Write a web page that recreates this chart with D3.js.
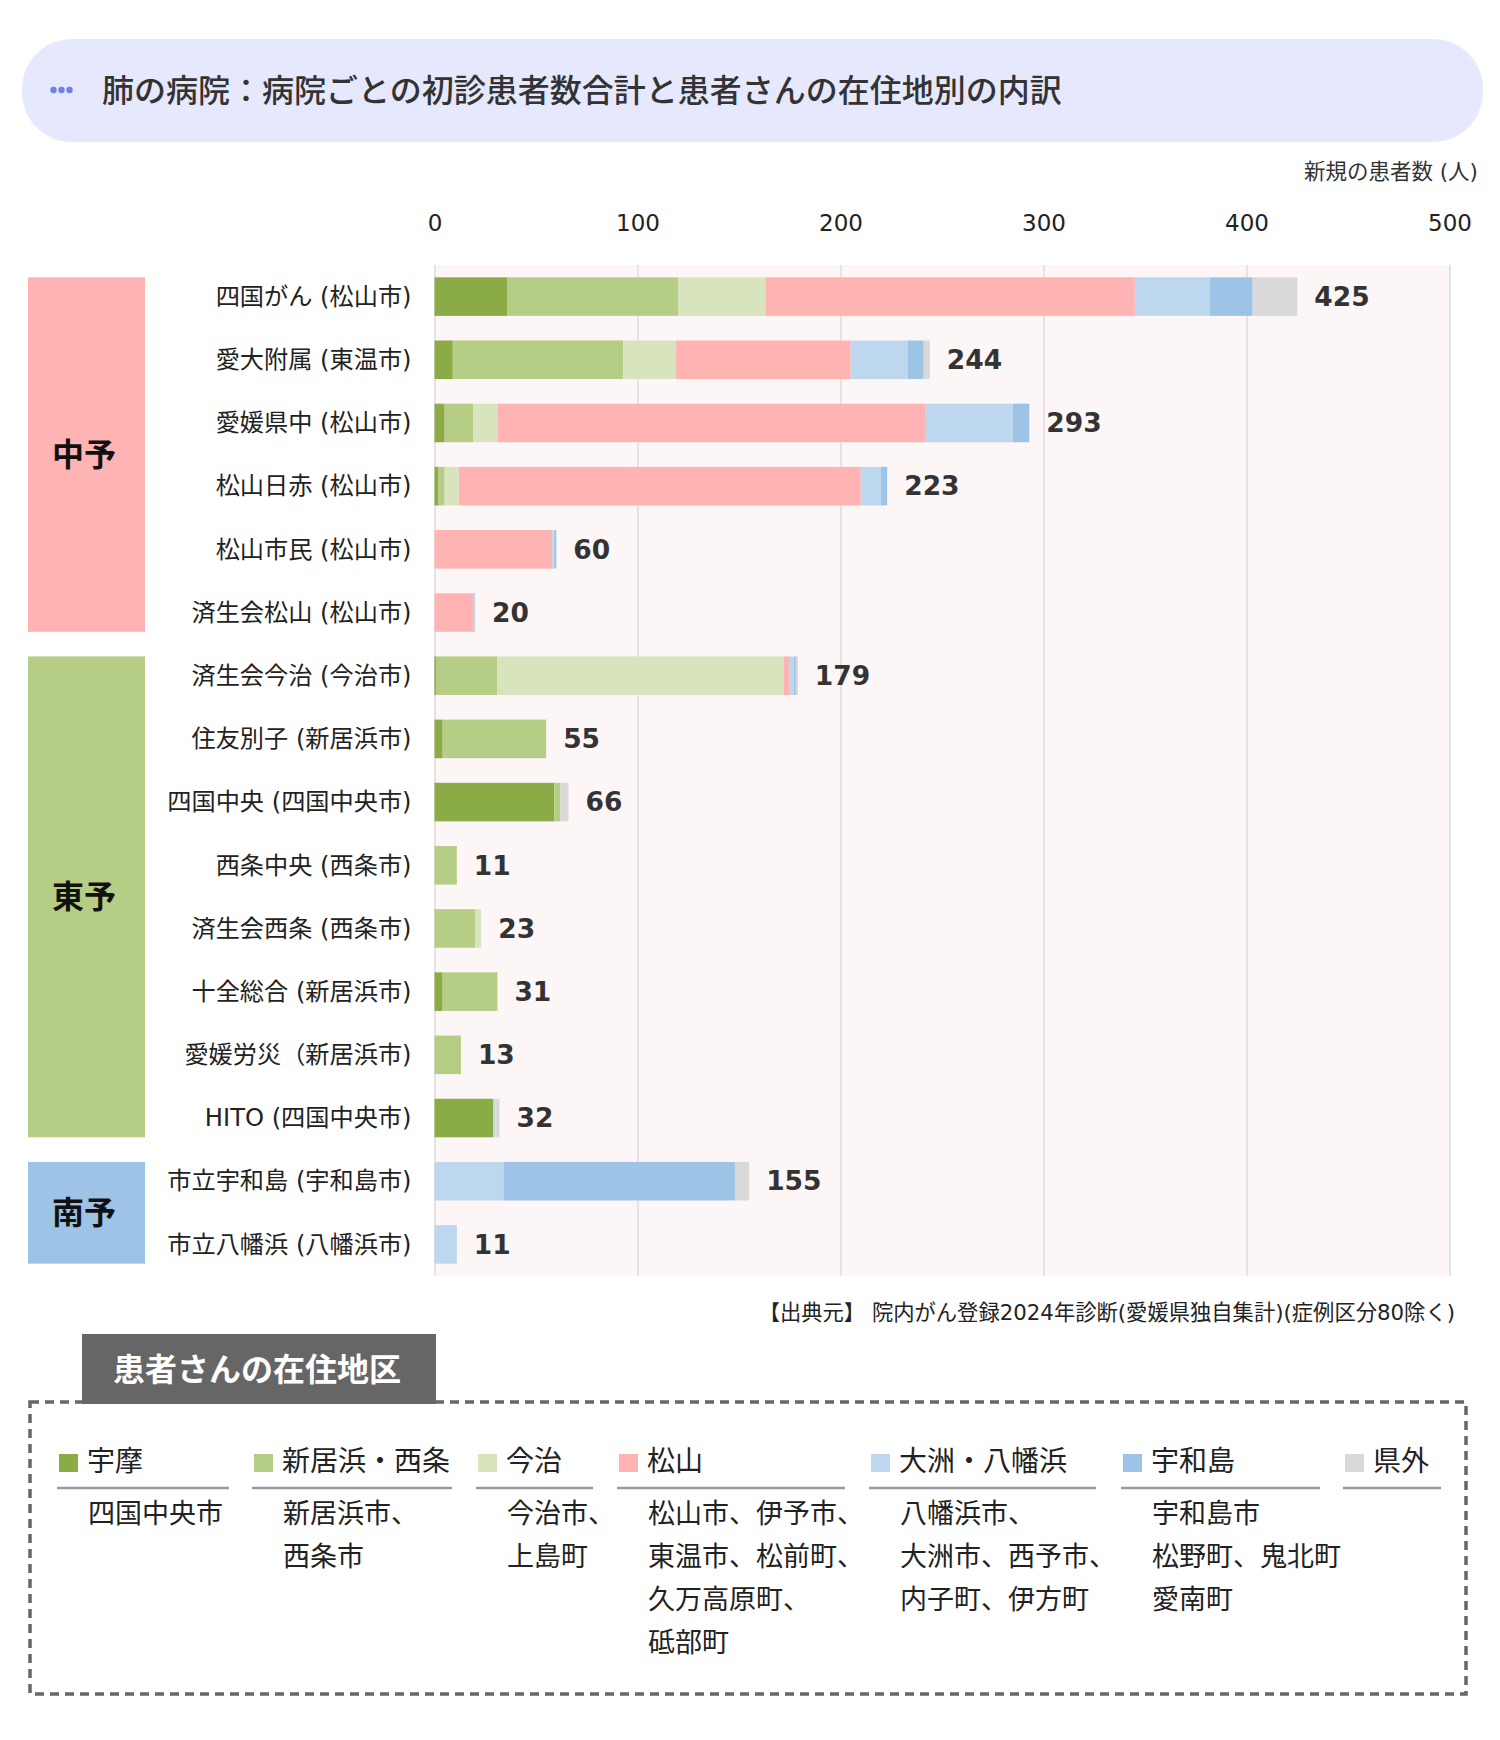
<!DOCTYPE html>
<html lang="ja">
<head>
<meta charset="utf-8">
<script src="https://cdn.jsdelivr.net/npm/d3@7"></script>
<style>
  body { margin: 0; background: #fff; }
  text { font-family: "DejaVu Sans", "Noto Sans CJK JP", sans-serif; }
  .cjk { font-family: "Noto Sans CJK JP", sans-serif; }
</style>
</head>
<body>
<div id="vis"></div>
<script>
// データ（病院ごとの初診患者数・在住地別）
const hospitals = [
  '四国がん (松山市)', '愛大附属 (東温市)', '愛媛県中 (松山市)', '松山日赤 (松山市)',
  '松山市民 (松山市)', '済生会松山 (松山市)', '済生会今治 (今治市)', '住友別子 (新居浜市)',
  '四国中央 (四国中央市)', '西条中央 (西条市)', '済生会西条 (西条市)', '十全総合 (新居浜市)',
  '愛媛労災（新居浜市)', 'HITO (四国中央市)', '市立宇和島 (宇和島市)', '市立八幡浜 (八幡浜市)',
];
const seriesNames = ['宇摩', '新居浜・西条', '今治', '松山', '大洲・八幡浜', '宇和島', '県外'];
const umaValues = [36, 9, 5, 2, 0, 0, 1, 4, 59, 0, 0, 4, 0, 29, 0, 0];
const niihamaValues = [84, 84, 14, 3, 0, 0, 30, 51, 3, 11, 20, 27, 13, 0, 0, 0];
const imabariValues = [43, 26, 12, 7, 0, 0, 141, 0, 0, 0, 3, 0, 0, 0, 0, 0];
const matsuyamaValues = [182, 86, 211, 198, 58, 19, 3, 0, 0, 0, 0, 0, 0, 0, 0, 0];
const ozuValues = [37, 28, 43, 10, 1, 1, 2, 0, 0, 0, 0, 0, 0, 1, 34, 11];
const uwajimaValues = [21, 8, 8, 3, 1, 0, 1, 0, 0, 0, 0, 0, 0, 0, 114, 0];
const outsideValues = [22, 3, 0, 0, 0, 0, 1, 0, 4, 0, 0, 0, 0, 2, 7, 0];
const seriesColors = ['#8aab45', '#b5cd84', '#d8e4bd', '#ffb3b3', '#bdd7ee', '#9dc3e6', '#d9d9d9'];

const regionNames = ['中予', '東予', '南予'];
const regionRowCounts = [6, 8, 2];
const regionColors = ['#ffb3b3', '#b5cd84', '#9dc3e6'];

const xTicks = [0, 100, 200, 300, 400, 500];

const legendAreas = [
  ['四国中央市'],
  ['新居浜市、', '西条市'],
  ['今治市、', '上島町'],
  ['松山市、伊予市、', '東温市、松前町、', '久万高原町、', '砥部町'],
  ['八幡浜市、', '大洲市、西予市、', '内子町、伊方町'],
  ['宇和島市', '松野町、鬼北町', '愛南町'],
  [],
];

const titleText = '肺の病院：病院ごとの初診患者数合計と患者さんの在住地別の内訳';
const unitText = '新規の患者数 (人)';
const sourceText = '【出典元】 院内がん登録2024年診断(愛媛県独自集計)(症例区分80除く)';
const legendTitle = '患者さんの在住地区';

// レイアウト
const WIDTH = 1500;
const HEIGHT = 1740;
const PLOT = { left: 434.5, right: 1449.5, top: 265, bottom: 1276 };
const LEGEND_COL_X = [59, 254, 478, 619, 871, 1123, 1345];
const LEGEND_LINE_END = [229, 452, 593, 845, 1096, 1320, 1441];

const svg = d3.select('#vis').append('svg')
  .attr('width', WIDTH)
  .attr('height', HEIGHT);

// タイトル
svg.append('rect')
  .attr('x', 22).attr('y', 39)
  .attr('width', 1461).attr('height', 103)
  .attr('rx', 50).attr('ry', 50)
  .attr('fill', '#e6e8fd');

svg.append('g')
  .selectAll('circle')
  .data([0, 1, 2])
  .join('circle')
  .attr('cx', (d) => 53.5 + d * 8)
  .attr('cy', 90)
  .attr('r', 3.2)
  .attr('fill', '#6d80ee');

svg.append('text')
  .attr('class', 'cjk')
  .attr('x', 102).attr('y', 90)
  .attr('dy', '0.36em')
  .attr('font-size', 32)
  .attr('font-weight', 500)
  .attr('fill', '#333')
  .text(titleText);

svg.append('text')
  .attr('x', 1478).attr('y', 171)
  .attr('dy', '0.36em')
  .attr('text-anchor', 'end')
  .attr('font-size', 21.5)
  .attr('fill', '#333')
  .text(unitText);

// スケール
const x = d3.scaleLinear().domain([0, 500]).range([PLOT.left, PLOT.right]);
const y = d3.scaleBand()
  .domain(hospitals)
  .range([PLOT.top, PLOT.bottom])
  .paddingInner(0.39)
  .paddingOuter(0.195);

// 積み上げ用テーブル
const seriesValues = [umaValues, niihamaValues, imabariValues, matsuyamaValues,
  ozuValues, uwajimaValues, outsideValues];
const table = hospitals.map((h, i) => {
  const row = { hospital: h };
  seriesNames.forEach((s, j) => { row[s] = seriesValues[j][i]; });
  row.total = d3.sum(seriesValues, (v) => v[i]);
  return row;
});
const stacked = d3.stack().keys(seriesNames)(table);

// 背景とグリッド
svg.append('rect')
  .attr('x', PLOT.left).attr('y', PLOT.top)
  .attr('width', PLOT.right - PLOT.left)
  .attr('height', PLOT.bottom - PLOT.top)
  .attr('fill', '#fdf6f6');

const grid = svg.append('g')
  .attr('transform', `translate(0,${PLOT.top})`)
  .call(d3.axisBottom(x).tickValues(xTicks)
    .tickSize(PLOT.bottom - PLOT.top).tickFormat(''));
grid.select('.domain').remove();
grid.selectAll('line').attr('stroke', '#dcdcdc').attr('stroke-width', 1.5);

const xAxis = svg.append('g')
  .attr('transform', 'translate(0,231)')
  .call(d3.axisTop(x).tickValues(xTicks).tickSize(0).tickPadding(0));
xAxis.select('.domain').remove();
xAxis.selectAll('text')
  .attr('font-size', 23)
  .attr('fill', '#222')
  .style('font-family', '"DejaVu Sans", sans-serif');

// 地域の帯
let rowStart = 0;
regionNames.forEach((r, i) => {
  const first = hospitals[rowStart];
  const last = hospitals[rowStart + regionRowCounts[i] - 1];
  const top = y(first);
  const bottom = y(last) + y.bandwidth();
  svg.append('rect')
    .attr('x', 28).attr('y', top)
    .attr('width', 117).attr('height', bottom - top)
    .attr('fill', regionColors[i]);
  svg.append('text')
    .attr('class', 'cjk')
    .attr('x', 84).attr('y', (top + bottom) / 2)
    .attr('dy', '0.36em')
    .attr('text-anchor', 'middle')
    .attr('font-size', 32)
    .attr('font-weight', 'bold')
    .attr('fill', '#111')
    .text(r);
  rowStart += regionRowCounts[i];
});

// 病院名
svg.append('g')
  .selectAll('text')
  .data(hospitals)
  .join('text')
  .attr('x', 411.5)
  .attr('y', (d) => y(d) + y.bandwidth() / 2)
  .attr('dy', '0.34em')
  .attr('text-anchor', 'end')
  .attr('font-size', 24.2)
  .attr('fill', '#222')
  .text((d) => d);

// 棒
svg.append('g')
  .selectAll('g')
  .data(stacked)
  .join('g')
  .attr('fill', (d, i) => seriesColors[i])
  .selectAll('rect')
  .data((d) => d)
  .join('rect')
  .attr('x', (d) => x(d[0]))
  .attr('y', (d) => y(d.data.hospital))
  .attr('width', (d) => x(d[1]) - x(d[0]))
  .attr('height', y.bandwidth());

// 合計値
svg.append('g')
  .selectAll('text')
  .data(table)
  .join('text')
  .attr('x', (d) => x(d.total) + 17)
  .attr('y', (d) => y(d.hospital) + y.bandwidth() / 2)
  .attr('dy', '0.35em')
  .attr('font-size', 26.5)
  .attr('font-weight', 'bold')
  .attr('fill', '#333')
  .text((d) => d.total);

// 出典
svg.append('text')
  .attr('x', 1455).attr('y', 1312)
  .attr('dy', '0.36em')
  .attr('text-anchor', 'end')
  .attr('font-size', 21.3)
  .attr('fill', '#222')
  .text(sourceText);

// 凡例
svg.append('rect')
  .attr('x', 30).attr('y', 1402)
  .attr('width', 1436).attr('height', 292)
  .attr('fill', 'none')
  .attr('stroke', '#666')
  .attr('stroke-width', 3.5)
  .attr('stroke-dasharray', '9 6');

svg.append('rect')
  .attr('x', 82).attr('y', 1334)
  .attr('width', 354).attr('height', 70)
  .attr('fill', '#666');

svg.append('text')
  .attr('class', 'cjk')
  .attr('x', 257).attr('y', 1369)
  .attr('dy', '0.36em')
  .attr('text-anchor', 'middle')
  .attr('font-size', 32)
  .attr('font-weight', 'bold')
  .attr('fill', '#fff')
  .text(legendTitle);

const legend = svg.append('g')
  .selectAll('g')
  .data(seriesNames)
  .join('g')
  .attr('transform', (d, i) => `translate(${LEGEND_COL_X[i]},0)`);

legend.append('rect')
  .attr('x', 0).attr('y', 1454)
  .attr('width', 19).attr('height', 18)
  .attr('fill', (d, i) => seriesColors[i]);

legend.append('text')
  .attr('class', 'cjk')
  .attr('x', 28).attr('y', 1461)
  .attr('dy', '0.36em')
  .attr('font-size', 28)
  .attr('fill', '#222')
  .text((d) => d);

legend.append('line')
  .attr('x1', -2).attr('x2', (d, i) => LEGEND_LINE_END[i] - LEGEND_COL_X[i])
  .attr('y1', 1488).attr('y2', 1488)
  .attr('stroke', '#999')
  .attr('stroke-width', 2.5);

legend.selectAll('text.area')
  .data((d, i) => legendAreas[i])
  .join('text')
  .attr('class', 'area cjk')
  .attr('x', 29)
  .attr('y', (d, j) => 1513 + j * 43)
  .attr('dy', '0.36em')
  .attr('font-size', 27)
  .attr('fill', '#222')
  .text((d) => d);
</script>
</body>
</html>
